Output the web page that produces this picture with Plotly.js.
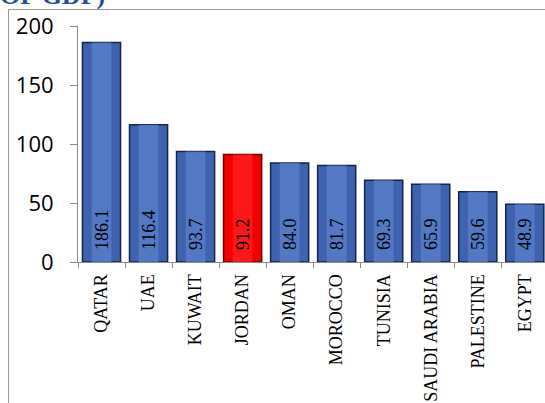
<!DOCTYPE html>
<html>
<head>
<meta charset="utf-8">
<script src="https://cdn.plot.ly/plotly-3.0.1.min.js"></script>
<style>html,body{margin:0;padding:0;background:#fff;}#chart{width:545px;height:403px;}</style>
</head>
<body>
<div id="chart"></div>
<script>
const countries = ["QATAR","UAE","KUWAIT","JORDAN","OMAN","MOROCCO","TUNISIA","SAUDI ARABIA","PALESTINE","EGYPT"];
const values = [186.1,116.4,93.7,91.2,84.0,81.7,69.3,65.9,59.6,48.9];
const highlight = "JORDAN";
const yTicks = [0,50,100,150,200];
const titleText = "OF GDP)";

const fillColors = countries.map(c => c === highlight ? "#f40000" : "#3f62af");
const edgeColors = countries.map(c => c === highlight ? "#6e0000" : "#15254a");
const innerColors = countries.map(c => c === highlight ? "#ff2020" : "#5a80cc");

const base = {
  type: "bar",
  x: countries,
  y: values,
  width: 0.81,
  marker: {color: fillColors, line: {color: edgeColors, width: 1.5}},
  hoverinfo: "skip"
};
const inner = {
  type: "bar",
  x: countries,
  y: values,
  width: 0.42,
  marker: {color: innerColors, line: {width: 0}},
  hoverinfo: "skip",
  opacity: 0.75
};
const labels = {
  type: "bar",
  x: countries,
  y: values,
  width: 0.81,
  marker: {color: "rgba(0,0,0,0)", line: {width: 0}},
  text: values.map(v => "\u00a0\u00a0" + v.toFixed(1)),
  textposition: "inside",
  insidetextanchor: "start",
  textangle: -90,
  insidetextfont: {family: "Liberation Serif", size: 18, color: "#000"},
  hoverinfo: "skip"
};

const layout = {
  width: 545,
  height: 403,
  margin: {l: 78, r: 0, t: 26, b: 141},
  paper_bgcolor: "#fff",
  plot_bgcolor: "#fff",
  showlegend: false,
  barmode: "overlay",
  annotations: [{
    text: "<b>" + titleText + "</b>",
    font: {family: "Liberation Serif", size: 26, color: "#1f4f9c"},
    xref: "paper", yref: "paper",
    x: -0.17, xanchor: "left",
    y: 1.063, yanchor: "bottom",
    showarrow: false, borderpad: 0
  }],
  xaxis: {
    range: [-0.5, 9.43],
    showline: true, linecolor: "#8c8c8c", linewidth: 1,
    ticks: "outside", ticklen: 5, tickcolor: "#8c8c8c", tickson: "boundaries",
    tickangle: -90,
    tickfont: {family: "Liberation Serif", size: 18, color: "#000"},
    ticklabelstandoff: 4,
    showgrid: false, zeroline: false, fixedrange: true
  },
  yaxis: {
    range: [0, 200],
    tickvals: yTicks,
    ticktext: yTicks.map(String),
    showline: true, linecolor: "#8c8c8c", linewidth: 1,
    ticks: "outside", ticklen: 7, tickcolor: "#8c8c8c",
    tickfont: {family: "Open Sans", size: 22, color: "#000"},
    ticklabelstandoff: 12,
    showgrid: false, zeroline: false, fixedrange: true
  },
  shapes: [
    {type: "line", xref: "paper", yref: "paper", x0: -0.1488, x1: 1.2, y0: 1.07, y1: 1.07, line: {color: "#9a9a9a", width: 1}},
    {type: "line", xref: "paper", yref: "paper", x0: -0.1488, x1: -0.1488, y0: 1.07, y1: -0.7, line: {color: "#9a9a9a", width: 1}}
  ]
};

Plotly.newPlot("chart", [base, inner, labels], layout, {staticPlot: true, displayModeBar: false});
</script>
</body>
</html>
